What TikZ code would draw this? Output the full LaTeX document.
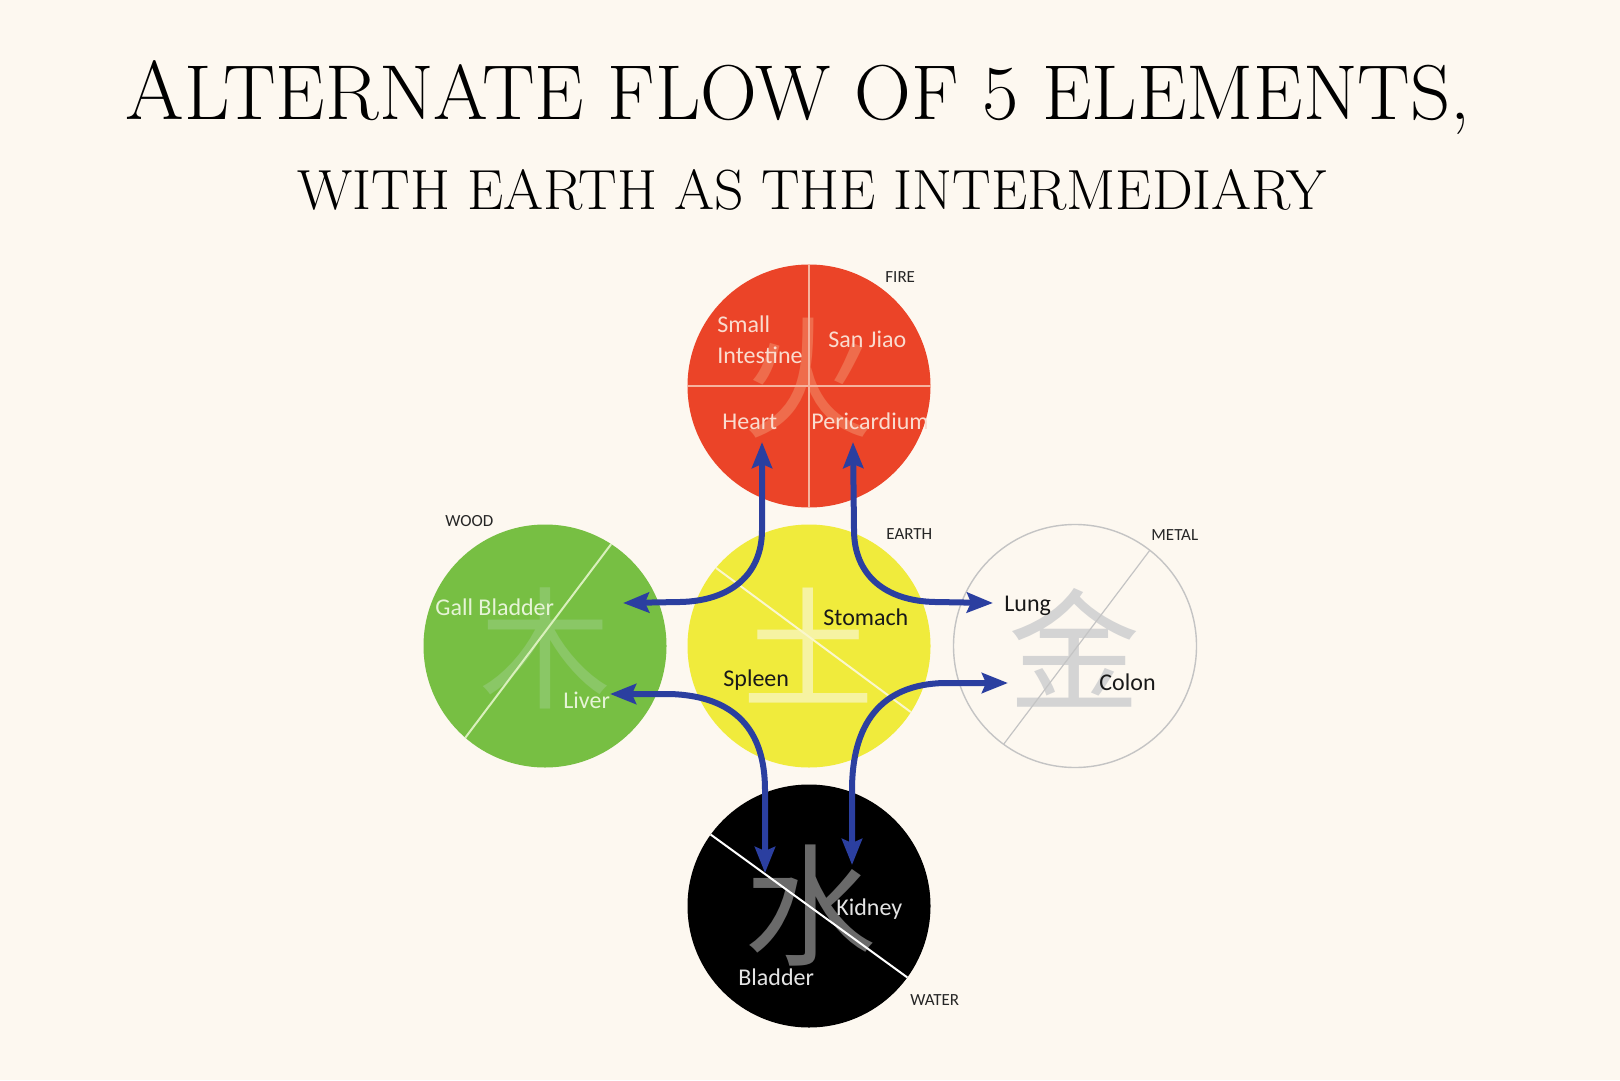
\documentclass[tikz,border=0pt]{standalone}
\usepackage{fontspec}
\usepackage{graphicx}
\usetikzlibrary{arrows.meta}
\newfontfamily\cjkfont{Noto Sans CJK SC}
\newfontfamily\calib{Carlito}
\definecolor{bgc}{HTML}{FDF8F0}
\definecolor{firec}{HTML}{EB4428}
\definecolor{woodc}{HTML}{77BF43}
\definecolor{earthc}{HTML}{F0EB3C}
\definecolor{waterc}{HTML}{000000}
\definecolor{metalline}{HTML}{C4C4C4}
\definecolor{flowc}{HTML}{2B3FA0}
\definecolor{firetext}{HTML}{FADCCF}
\definecolor{woodtext}{HTML}{E6F4D6}
\definecolor{watertext}{HTML}{E4E4E4}
\definecolor{firechar}{HTML}{EF6C4C}
\definecolor{woodchar}{HTML}{8AC766}
\definecolor{earthchar}{HTML}{F6F3A2}
\definecolor{metalchar}{HTML}{D4D4D4}
\definecolor{waterchar}{HTML}{6A6A6A}
\definecolor{fireline}{HTML}{F6B39E}
\definecolor{woodline}{HTML}{D9F0BC}
\definecolor{earthline}{HTML}{FAF7CC}
\begin{document}
\begin{tikzpicture}[x=0.5pt,y=-0.5pt,
  elem/.style={circle,minimum size=121.5pt,inner sep=0pt,outer sep=0pt},
  glyph/.style={inner sep=0pt,font=\cjkfont\fontsize{66}{66}\selectfont},
  organ/.style={anchor=base west,inner sep=0pt,font=\calib\fontsize{12}{14}\selectfont},
  elabel/.style={anchor=base west,inner sep=0pt,font=\calib\fontsize{8.5}{10}\selectfont,text=black!85},
  divline/.style={line width=1pt},
  flow/.style={line width=3pt,draw=flowc,
    {Stealth[length=13pt,width=10pt,inset=2pt]}-{Stealth[length=13pt,width=10pt,inset=2pt]}}]
\useasboundingbox[fill=bgc] (0,0) rectangle (1620,1080);

% title
\node[anchor=base west,inner sep=0pt] (title1) at (125,120)
  {\resizebox{672.5pt}{29.5pt}{\fontsize{44}{44}\selectfont A\fontsize{41}{41}\selectfont LTERNATE FLOW OF 5 ELEMENTS,}};
\node[anchor=base west,inner sep=0pt] (title2) at (297,210)
  {\resizebox{514.5pt}{20pt}{\fontsize{30}{30}\selectfont WITH EARTH AS THE INTERMEDIARY}};

% circles
\node[elem,fill=firec] (fire) at (809,386) {};
\node[elem,fill=woodc] (wood) at (545,646) {};
\node[elem,fill=earthc] (earth) at (809,646) {};
\node[elem,fill=bgc,draw=metalline,line width=0.7pt] (metal) at (1075,646) {};
\node[elem,fill=waterc] (water) at (809,906) {};

% characters
\node[glyph,text=firechar] (firech) at (808,378) {火};
\node[glyph,text=woodchar] (woodch) at (545,648) {木};
\node[glyph,text=earthchar] (earthch) at (808,646) {土};
\node[glyph,text=metalchar] (metalch) at (1074,648) {金};
\node[glyph,text=waterchar] (waterch) at (810,906) {水};

% dividing lines
\draw[divline,fireline] (fire.north) -- (fire.south);
\draw[divline,fireline] (fire.west) -- (fire.east);
\draw[divline,woodline] (wood.229) -- (wood.57.6);
\draw[divline,earthline] (earth.140) -- (earth.-33);
\draw[line width=0.6pt,metalline] (metal.52.7) -- (metal.234.7);
\draw[divline,white] (water.144) -- (water.-36);

% arrow end points
\coordinate (heartTip) at (762,442);
\coordinate (gbTip) at (623,603);
\coordinate (periTip) at (853,442);
\coordinate (lungTip) at (993,603);
\coordinate (liverTip) at (610,694);
\coordinate (bladTip) at (765,873);
\coordinate (colonTip) at (1008,683);
\coordinate (kidTip) at (852,865);

% arrows
\draw[flow] (gbTip) -- (680,602) .. controls (730,601) and (762,575) .. (762,530) -- (heartTip);
\draw[flow] (periTip) -- (854,530) .. controls (854,575) and (885,601) .. (935,602) -- (lungTip);
\draw[flow] (liverTip) -- (670,694) .. controls (735,696) and (765,730) .. (765,790) -- (bladTip);
\draw[flow] (colonTip) -- (945,683) .. controls (880,684) and (852,725) .. (852,790) -- (kidTip);

% organ labels
\node[organ,text=firetext] (small) at (717,333) {Small};
\node[organ,text=firetext] (intest) at (717,364) {Intestine};
\node[organ,text=firetext] (sanjiao) at (828,347) {San Jiao};
\node[organ,text=firetext] (heart) at (722,429) {Heart};
\node[organ,text=firetext] (peri) at (811,429) {Pericardium};
\node[organ,text=woodtext] (gall) at (435,615) {Gall Bladder};
\node[organ,text=woodtext] (liver) at (563,708) {Liver};
\node[organ,text=black!90] (stomach) at (823,625) {Stomach};
\node[organ,text=black!90] (spleen) at (723,686) {Spleen};
\node[organ,text=black!90] (lung) at (1004,611) {Lung};
\node[organ,text=black!90] (colon) at (1099,690) {Colon};
\node[organ,text=watertext] (kidney) at (836,915) {Kidney};
\node[organ,text=watertext] (bladder) at (738,985) {Bladder};

% element labels
\node[elabel] (firel) at (885,282.5) {FIRE};
\node[elabel] (woodl) at (445,526.5) {WOOD};
\node[elabel] (earthl) at (886,539.5) {EARTH};
\node[elabel] (metall) at (1151,540.5) {METAL};
\node[elabel] (waterl) at (910,1005.5) {WATER};
\end{tikzpicture}
\end{document}
